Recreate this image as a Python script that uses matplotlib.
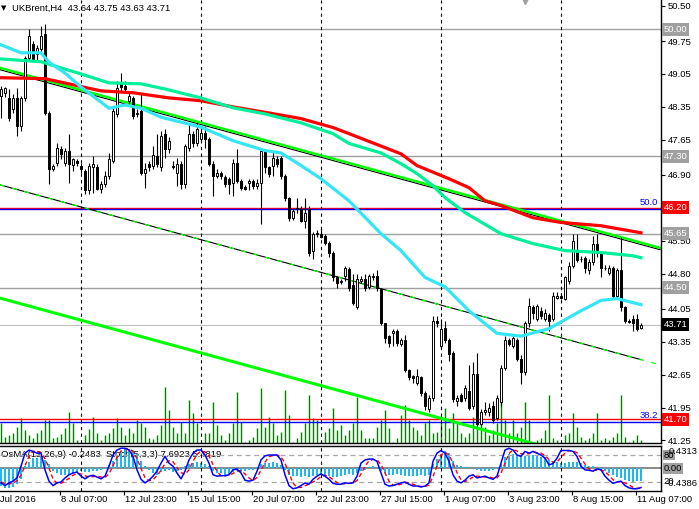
import matplotlib
matplotlib.use('Agg')
import matplotlib.pyplot as plt
import matplotlib.transforms as mtransforms
import numpy as np

plt.rcParams['font.family'] = ['Liberation Sans', 'DejaVu Sans']

# ---- H4 candles, UKBrent (bar 0 = first visible bar) ----
opens = [48.59, 48.65, 48.54, 48.31, 48.54, 47.95, 48.54, 49.39, 49.69, 49.48,
         49.59, 49.90, 48.22, 47.03, 47.16, 47.46, 47.16, 47.42, 47.12, 47.20,
         47.10, 46.99, 46.57, 47.06, 47.06, 46.61, 46.71, 46.88, 47.20, 48.20,
         48.86, 48.80, 48.48, 48.54, 48.20, 48.27, 46.95, 47.14, 47.10, 47.31,
         47.06, 47.78, 47.46, 47.10, 46.95, 47.14, 46.71, 47.48, 47.78, 47.59,
         47.67, 47.80, 47.67, 47.14, 46.88, 46.95, 46.86, 46.82, 46.74, 47.16,
         46.78, 46.65, 46.74, 46.78, 46.67, 46.74, 47.42, 47.06, 47.10, 47.25,
         47.27, 46.88, 46.40, 45.99, 46.20, 46.18, 45.93, 46.18, 45.29, 45.67,
         45.65, 45.61, 45.46, 45.25, 44.72, 44.63, 44.74, 44.89, 44.55, 44.08,
         44.65, 44.69, 44.52, 44.72, 44.76, 44.48, 43.74, 43.48, 43.53, 43.59,
         43.31, 43.38, 42.74, 42.63, 42.48, 42.59, 42.27, 41.93, 42.16, 43.80,
         43.27, 43.65, 43.38, 43.12, 42.10, 42.21, 42.16, 42.31, 41.99, 42.67,
         41.61, 41.85, 41.85, 41.99, 41.72, 42.06, 42.80, 43.38, 43.27, 43.38,
         42.99, 42.70, 43.74, 44.08, 43.84, 44.01, 43.84, 43.91, 43.84, 44.29,
         44.33, 44.27, 44.65, 44.97, 45.29, 45.12, 45.14, 44.87, 45.04, 45.44,
         45.23, 44.93, 44.82, 44.93, 44.33, 44.87, 44.08, 43.80, 43.84, 43.84,
         43.64]
highs = [48.80, 48.78, 48.73, 48.63, 48.76, 48.59, 49.44, 50.01, 49.76, 49.67,
         50.07, 50.12, 48.27, 47.14, 47.59, 47.52, 47.48, 47.78, 47.27, 47.25,
         47.16, 47.03, 47.16, 47.31, 47.14, 46.78, 46.99, 47.37, 48.37, 48.91,
         49.08, 48.91, 48.69, 48.59, 48.31, 48.63, 47.16, 47.20, 47.52, 47.78,
         47.84, 47.88, 47.71, 47.20, 47.27, 47.20, 47.57, 47.99, 47.84, 48.01,
         47.91, 47.95, 47.71, 47.20, 47.03, 46.99, 46.91, 46.86, 47.25, 47.46,
         46.82, 46.69, 46.82, 46.82, 46.82, 47.48, 47.46, 47.10, 47.42, 47.31,
         47.31, 46.93, 46.44, 46.18, 46.40, 46.25, 46.42, 46.25, 45.69, 45.72,
         45.76, 45.65, 45.50, 45.29, 44.76, 44.69, 44.97, 44.95, 44.80, 44.80,
         44.76, 44.80, 44.80, 44.82, 44.87, 44.50, 43.76, 43.50, 43.63, 43.63,
         43.44, 43.50, 42.78, 42.65, 42.78, 42.63, 42.31, 42.21, 43.89, 43.89,
         43.84, 43.80, 43.42, 43.16, 42.21, 42.27, 42.42, 42.85, 42.91, 43.12,
         41.93, 42.06, 42.04, 42.10, 42.21, 42.85, 43.48, 43.42, 43.48, 43.44,
         43.06, 43.80, 44.29, 44.14, 44.16, 44.08, 44.04, 43.97, 44.40, 44.40,
         44.38, 44.76, 45.04, 45.65, 45.65, 45.18, 45.18, 45.12, 45.61, 45.65,
         45.29, 44.99, 44.99, 44.97, 44.91, 45.57, 44.12, 43.84, 43.91, 43.95,
         43.75]
lows = [48.12, 48.56, 48.05, 48.22, 47.74, 47.84, 48.48, 49.33, 49.33, 49.33,
        49.50, 48.18, 46.71, 46.99, 47.10, 47.25, 47.10, 46.74, 46.99, 47.10,
        46.95, 46.50, 46.50, 46.52, 46.57, 46.52, 46.65, 46.82, 47.16, 48.14,
        48.69, 48.65, 48.42, 48.10, 48.14, 46.91, 46.63, 46.99, 47.03, 47.08,
        46.99, 47.27, 47.37, 47.03, 46.67, 46.61, 46.63, 47.42, 47.50, 47.52,
        47.63, 47.48, 47.10, 46.46, 46.84, 46.82, 46.65, 46.50, 46.46, 46.74,
        46.57, 46.57, 46.57, 46.61, 46.61, 45.86, 46.95, 46.86, 46.88, 47.08,
        46.82, 46.35, 45.93, 45.95, 46.10, 45.89, 45.78, 45.18, 45.12, 45.59,
        45.55, 45.40, 45.16, 44.65, 44.50, 44.57, 44.65, 44.44, 44.14, 44.04,
        44.61, 44.44, 44.48, 44.67, 44.44, 43.70, 43.33, 43.23, 43.27, 43.27,
        43.27, 42.70, 42.53, 42.48, 42.44, 42.19, 41.89, 41.85, 42.10, 43.67,
        43.21, 43.33, 42.95, 42.06, 41.99, 42.06, 42.10, 41.89, 41.93, 41.57,
        41.57, 41.80, 41.78, 41.63, 41.68, 41.99, 42.74, 43.25, 43.21, 42.95,
        42.46, 42.65, 43.67, 43.84, 43.80, 43.84, 43.80, 43.59, 43.80, 44.27,
        44.25, 44.23, 44.59, 44.93, 45.04, 45.04, 44.82, 44.80, 44.99, 45.16,
        44.72, 44.87, 44.78, 44.27, 44.29, 44.01, 43.76, 43.74, 43.59, 43.59,
        43.63]
closes = [48.73, 48.76, 48.12, 48.54, 47.95, 48.54, 49.39, 49.86, 49.37, 49.61,
          49.86, 48.22, 47.03, 47.10, 47.48, 47.35, 47.42, 47.14, 47.23, 47.16,
          47.03, 46.57, 47.10, 47.14, 46.61, 46.71, 46.88, 47.23, 48.27, 48.76,
          48.78, 48.73, 48.59, 48.16, 48.22, 46.95, 47.03, 47.06, 47.33, 47.14,
          47.74, 47.46, 47.63, 47.08, 47.14, 46.71, 47.52, 47.78, 47.59, 47.88,
          47.80, 47.67, 47.14, 46.88, 46.95, 46.88, 46.71, 46.71, 47.16, 46.78,
          46.63, 46.61, 46.78, 46.67, 46.74, 47.42, 47.06, 46.93, 47.27, 47.14,
          46.88, 46.42, 45.99, 46.14, 46.18, 45.93, 46.10, 45.25, 45.65, 45.65,
          45.59, 45.46, 45.23, 44.72, 44.61, 44.65, 44.91, 44.50, 44.18, 44.69,
          44.69, 44.50, 44.76, 44.76, 44.50, 43.74, 43.42, 43.33, 43.59, 43.33,
          43.38, 42.74, 42.59, 42.57, 42.63, 42.27, 41.99, 42.16, 43.80, 43.74,
          43.63, 43.38, 43.10, 42.14, 42.16, 42.10, 42.36, 41.95, 42.67, 41.61,
          41.85, 41.89, 41.95, 41.68, 42.16, 42.80, 43.38, 43.31, 43.42, 42.99,
          42.70, 43.76, 44.12, 43.97, 44.12, 43.89, 43.97, 43.80, 44.33, 44.33,
          44.29, 44.72, 44.97, 45.50, 45.08, 45.12, 44.91, 45.04, 45.44, 45.23,
          44.93, 44.93, 44.93, 44.33, 44.87, 44.08, 43.80, 43.78, 43.74, 43.63,
          43.71]
tick_volume = [20, 6, 8, 10, 16, 25, 13, 8, 5, 10,
               13, 23, 23, 5, 6, 9, 15, 31, 20, 3,
               1, 8, 14, 26, 10, 3, 8, 10, 15, 25,
               16, 8, 15, 10, 23, 20, 16, 5, 4, 8,
               18, 56, 33, 16, 10, 21, 10, 43, 30, 20,
               1, 10, 10, 41, 18, 8, 3, 10, 20, 51,
               21, 1, 3, 6, 15, 55, 16, 26, 20, 8,
               11, 53, 28, 1, 5, 11, 20, 48, 25, 23,
               2, 11, 15, 35, 13, 18, 8, 13, 20, 46,
               13, 5, 5, 5, 16, 23, 33, 15, 1, 5,
               28, 38, 23, 16, 13, 8, 20, 23, 10, 11,
               21, 35, 15, 30, 20, 10, 6, 10, 26, 21,
               20, 16, 8, 13, 20, 43, 23, 10, 23, 10,
               16, 41, 23, 1, 3, 5, 13, 48, 5, 3,
               1, 8, 10, 30, 16, 6, 3, 5, 10, 30,
               3, 5, 3, 6, 10, 48, 6, 1, 3, 8, 3]

# ---- moving averages, read at sample bars ----
ma_red_bar = [0, 11, 25, 33, 42, 50, 58, 67, 75, 83, 87, 100, 104, 112, 117, 121, 125, 133, 140, 150, 160]
ma_red = [48.97, 48.95, 48.69, 48.65, 48.54, 48.48, 48.35, 48.22, 48.10, 47.91, 47.78,
          47.35, 47.10, 46.82, 46.63, 46.35, 46.25, 45.99, 45.89, 45.82, 45.67]
ma_mid_bar = [0, 10, 20, 27, 35, 41, 50, 58, 66, 75, 83, 87, 95, 100, 104, 108, 111, 116,
              125, 133, 141, 150, 158, 160]
ma_mid = [49.37, 49.31, 49.05, 48.86, 48.84, 48.73, 48.54, 48.33, 48.20, 48.01, 47.78, 47.57,
          47.37, 47.14, 46.93, 46.67, 46.42, 46.10, 45.65, 45.44, 45.29, 45.25, 45.18, 45.14]
ma_fast_bar = [0, 5, 10, 12, 16, 20, 25, 27, 31, 35, 40, 50, 58, 66, 70, 75, 80, 87, 95, 100,
               106, 111, 117, 124, 130, 137, 145, 150, 154, 160]
ma_fast = [49.67, 49.50, 49.50, 49.30, 49.07, 48.77, 48.45, 48.32, 48.39, 48.32, 48.13, 47.92,
           47.63, 47.42, 47.37, 47.10, 46.82, 46.35, 45.65, 45.29, 44.72, 44.52, 44.01, 43.53,
           43.47, 43.63, 44.01, 44.23, 44.27, 44.14]

# ---- channel (start / end anchors) ----
channel_bar = [-0.25, 164.75]
channel_top = [49.18, 45.35]
channel_mid = [46.69, 42.86]
channel_low = [44.28, 40.45]

# ---- levels ----
gray_levels = [50.00, 47.30, 45.65, 44.50]
bid = 43.71
red_levels = [46.20, 41.70]
fibo_levels = {'50.0': 46.185, '38.2': 41.65}
price_ticks = [50.50, 49.75, 49.05, 48.35, 47.65, 46.90, 45.50, 44.80, 44.05,
               43.35, 42.65, 41.95, 41.25]

# ---- OsMA(12,26,9) and Stoch(5,3,3) ----
osma = [-0.35, -0.39, -0.39, -0.36, -0.30, -0.20, 0.05, 0.13, 0.19, 0.20,
        0.24, 0.17, 0.08, -0.05, -0.10, -0.12, -0.13, -0.12, -0.10, -0.08,
        -0.06, -0.08, -0.07, -0.06, -0.05, -0.04, -0.02, 0.06, 0.14, 0.25,
        0.33, 0.37, 0.37, 0.33, 0.28, 0.15, 0.05, -0.04, -0.10, -0.12,
        -0.08, -0.06, -0.04, -0.07, -0.05, -0.03, 0.05, 0.08, 0.10, 0.12,
        0.10, 0.09, 0.04, -0.06, -0.09, -0.10, -0.12, -0.11, -0.08, -0.06,
        -0.07, -0.06, -0.04, -0.03, 0.03, 0.08, 0.10, 0.11, 0.12, 0.10,
        0.06, -0.03, -0.12, -0.14, -0.15, -0.16, -0.15, -0.17, -0.14, -0.12,
        -0.11, -0.12, -0.14, -0.17, -0.16, -0.15, -0.12, -0.11, -0.12, -0.10,
        -0.06, -0.03, 0.02, 0.04, 0.03, -0.05, -0.10, -0.12, -0.12, -0.11,
        -0.12, -0.14, -0.15, -0.15, -0.14, -0.13, -0.14, -0.12, 0.08, 0.18,
        0.28, 0.33, 0.30, 0.15, 0.06, 0.04, 0.03, 0.03, 0.01, -0.04,
        -0.06, -0.05, -0.05, -0.04, 0.03, 0.08, 0.22, 0.28, 0.28, 0.26,
        0.22, 0.24, 0.26, 0.25, 0.24, 0.22, 0.21, 0.17, 0.13, 0.12,
        0.11, 0.11, 0.12, 0.13, 0.12, 0.10, 0.06, 0.05, 0.04, -0.02,
        -0.03, -0.05, -0.10, -0.13, -0.16, -0.19, -0.22, -0.25, -0.26, -0.25, -0.2483]
stoch_main = [18, 12, 18, 22, 29, 55, 84, 91, 88, 84,
              84, 47, 22, 12, 18, 20, 29, 36, 40, 42,
              33, 27, 33, 35, 31, 27, 33, 55, 80, 91,
              95, 95, 91, 77, 47, 26, 18, 24, 33, 44,
              62, 77, 62, 55, 40, 27, 44, 69, 84, 91,
              91, 80, 62, 36, 33, 34, 34, 36, 47, 49,
              40, 24, 22, 24, 44, 69, 78, 80, 80, 80,
              69, 36, 12, 5, 7, 12, 18, 15, 26, 33,
              38, 33, 26, 17, 15, 15, 18, 17, 18, 33,
              62, 69, 71, 71, 66, 40, 15, 11, 12, 15,
              18, 20, 15, 11, 11, 9, 11, 18, 66, 84,
              90, 84, 66, 36, 22, 18, 24, 33, 36, 29,
              31, 33, 29, 26, 33, 62, 91, 95, 91, 80,
              77, 88, 84, 88, 84, 80, 73, 58, 61, 73,
              90, 90, 90, 88, 77, 55, 47, 46, 44, 49,
              47, 33, 24, 17, 20, 22, 12, 7, 5, 5, 7.69]
stoch_signal = [20, 16, 16, 17, 23, 35, 56, 77, 88, 88,
                85, 72, 51, 27, 17, 17, 22, 28, 35, 39,
                38, 34, 31, 32, 33, 31, 30, 38, 56, 75,
                89, 94, 94, 88, 72, 50, 30, 23, 25, 34,
                46, 61, 67, 65, 52, 41, 37, 47, 66, 81,
                89, 87, 78, 59, 44, 34, 34, 35, 39, 44,
                45, 38, 29, 23, 30, 46, 64, 76, 79, 80,
                76, 62, 39, 18, 8, 8, 12, 15, 20, 25,
                32, 35, 32, 25, 19, 16, 16, 17, 18, 23,
                38, 55, 67, 70, 69, 59, 40, 22, 13, 13,
                15, 18, 18, 15, 12, 10, 10, 13, 32, 56,
                80, 86, 80, 62, 41, 25, 21, 25, 31, 33,
                32, 31, 31, 29, 29, 40, 62, 83, 92, 89,
                83, 82, 83, 87, 85, 84, 79, 70, 64, 64,
                75, 84, 90, 89, 85, 73, 60, 49, 46, 46,
                47, 43, 35, 25, 20, 20, 18, 14, 8, 6, 5.48]

time_labels = ['5 Jul 2016', '8 Jul 07:00', '12 Jul 23:00', '15 Jul 15:00', '20 Jul 07:00',
               '22 Jul 23:00', '27 Jul 15:00', '1 Aug 07:00', '3 Aug 23:00', '8 Aug 15:00',
               '11 Aug 07:00']
time_label_bar = [-2.4, 14.75, 30.75, 46.75, 62.75, 78.75, 94.75, 110.75, 126.75, 142.75, 158.75]
separator_bar = [20, 50, 80, 110, 140]

FS = 6.8
W, H = 699, 509
fig = plt.figure(figsize=(W / 100, H / 100), dpi=100)

# ---------------- main price window ----------------
ax = fig.add_axes([0, 1 - 443 / H, 661 / W, 443 / H])
ax_vol = ax.twinx()
ax.set_zorder(2)
ax_vol.set_zorder(1)
ax.patch.set_visible(False)

x = np.arange(len(closes))
o = np.array(opens)
c = np.array(closes)

ax_vol.vlines(x, 0, tick_volume, color='#008000', lw=1.0)
ax_vol.set_ylim(0, 443)
ax_vol.axis('off')

for lv in gray_levels:
    ax.axhline(lv, color='#A0A0A0', lw=1.0, zorder=1)
ax.axhline(bid, color='#C0C0C0', lw=0.8, zorder=1)
for lv in red_levels:
    ax.axhline(lv, color='#FF0000', lw=1.0, zorder=1)
for name, lv in fibo_levels.items():
    ax.axhline(lv, color='#0000FF', lw=1.0, zorder=1)
    ax.text(164.3, lv + 0.04, name, color='#0000FF', fontsize=FS, ha='right', va='bottom')

for b in separator_bar:
    ax.axvline(b, color='black', lw=0.8, ls=(0, (3, 3)), zorder=1)

# channel
ax.plot(channel_bar, [v - 0.04 for v in channel_top], color='black', lw=0.8, zorder=2)
ax.plot(channel_bar, channel_top, color='#00FF00', lw=1.8, zorder=2)
ax.plot([channel_bar[0], 160], [channel_mid[0], channel_mid[0] + (channel_mid[1] - channel_mid[0]) * 160.25 / 165],
        color='black', lw=0.8, zorder=2)
ax.plot(channel_bar, channel_mid, color='#00FF00', lw=0.9, ls=(0, (4, 6)), zorder=2)
ax.plot(channel_bar, channel_low, color='#00FF00', lw=2.2, zorder=2)

# candles
up = c >= o
ax.vlines(x, lows, highs, color='black', lw=0.8, zorder=3)
ax.bar(x, np.abs(c - o), bottom=np.minimum(o, c), width=0.62,
       color=np.where(up, 'white', 'black'), edgecolor='black', linewidth=0.7, zorder=4)

# moving averages
ax.plot(ma_red_bar, ma_red, color='#FF0000', lw=2.3, zorder=5)
ax.plot(ma_mid_bar, ma_mid, color='#00F09A', lw=2.3, zorder=5)
ax.plot(ma_fast_bar, ma_fast, color='#33E6F5', lw=2.3, zorder=5)

ax.plot([131], [50.60], marker='v', ms=5, color='#A0A0A0', clip_on=False, zorder=6)

ax.set_xlim(-0.25, 165)
ax.set_ylim(41.196, 50.624)
ax.set_xticks([])
ax.yaxis.tick_right()
ax.set_yticks(price_ticks)
ax.set_yticklabels([f'{t:.2f}' for t in price_ticks])
ax.tick_params(axis='y', length=3, width=0.8, pad=2, labelsize=FS, colors='black')
for s in ['top', 'left']:
    ax.spines[s].set_visible(False)
for s in ['right', 'bottom']:
    ax.spines[s].set_color('black')
    ax.spines[s].set_linewidth(1.0)

# price boxes on the axis
blend = mtransforms.blended_transform_factory(ax.transAxes, ax.transData)
boxes = [(50.00, '#A0A0A0'), (47.30, '#A0A0A0'), (46.20, '#FF0000'), (45.65, '#A0A0A0'),
         (44.50, '#A0A0A0'), (bid, '#000000'), (41.70, '#FF0000')]
for val, col in boxes:
    ax.text(1.004, val, f'{val:.2f}', transform=blend, ha='left', va='center', fontsize=FS,
            color='white', clip_on=False, zorder=10,
            bbox=dict(boxstyle='square,pad=0.22', fc=col, ec='none'))

fig.text(0.5 / W, 1 - 8 / H, '\u25BC', fontsize=5, va='center', ha='left', family='DejaVu Sans')
fig.text(12 / W, 1 - 8 / H, 'UKBrent,H4  43.64 43.75 43.63 43.71', fontsize=FS,
         va='center', ha='left')

# ---------------- indicator window ----------------
ax_ind = fig.add_axes([0, 1 - 491 / H, 661 / W, 45 / H])
ax_osma = ax_ind.twinx()
ax_ind.set_zorder(2)
ax_osma.set_zorder(1)
ax_ind.patch.set_visible(False)

ax_osma.text(0.002, 0.82, 'OsMA(12,26,9) -0.2483  Stoch(5,3,3) 7.6923 5.4819',
             transform=ax_osma.transAxes, fontsize=FS, ha='left', va='center', zorder=0)
ax_osma.bar(x, osma, width=0.7, color='#1CB8F2', zorder=2)
ax_osma.axhline(0, color='#808080', lw=1.3, zorder=1)
ax_osma.set_ylim(-0.4386, 0.4313)
ax_osma.axis('off')

for lv in [80, 20]:
    ax_ind.axhline(lv, color='#A8A8A8', lw=0.9, ls=(0, (4, 3)), zorder=1)
for b in separator_bar:
    ax_ind.axvline(b, color='black', lw=0.8, ls=(0, (3, 3)), zorder=1)
ax_ind.plot(x, stoch_signal, color='#FF0000', lw=1.0, ls=(0, (3, 2)), zorder=3)
ax_ind.plot(x, stoch_main, color='#0000FF', lw=1.1, zorder=4)

ax_ind.set_xlim(-0.25, 165)
ax_ind.set_ylim(0, 100)
ax_ind.set_yticks([])
ax_ind.set_xticks(time_label_bar[1:])
ax_ind.set_xticklabels([])
ax_ind.tick_params(axis='x', length=3, width=0.8, direction='out')
ax_ind.spines['left'].set_visible(False)
for s in ['top', 'right', 'bottom']:
    ax_ind.spines[s].set_color('black')
    ax_ind.spines[s].set_linewidth(1.0)

tblend = mtransforms.blended_transform_factory(ax_ind.transData, ax_ind.transAxes)
for b, lab in zip(time_label_bar, time_labels):
    ax_ind.text(b + 0.2, -0.19, lab, transform=tblend, fontsize=FS, ha='left', va='center',
                clip_on=False)

iblend = mtransforms.blended_transform_factory(ax_ind.transAxes, ax_ind.transData)
ax_ind.text(1.004, 80, '80', transform=iblend, fontsize=FS, ha='left', va='center',
            clip_on=False, bbox=dict(boxstyle='square,pad=0.1', fc='#A0A0A0', ec='none'))
ax_ind.text(1.012, 87, '0.4313', transform=iblend, fontsize=FS, ha='left', va='center',
            clip_on=False)
ax_ind.text(1.004, 50, '0.00', transform=iblend, fontsize=FS, ha='left', va='center',
            clip_on=False, bbox=dict(boxstyle='square,pad=0.1', fc='#A0A0A0', ec='none'))
ax_ind.text(1.004, 20, '20', transform=iblend, fontsize=FS, ha='left', va='center',
            clip_on=False)
ax_ind.text(1.007, 16, '-0.4386', transform=iblend, fontsize=FS, ha='left', va='center',
            clip_on=False)

fig.savefig('out.png', dpi=100, facecolor='white')
